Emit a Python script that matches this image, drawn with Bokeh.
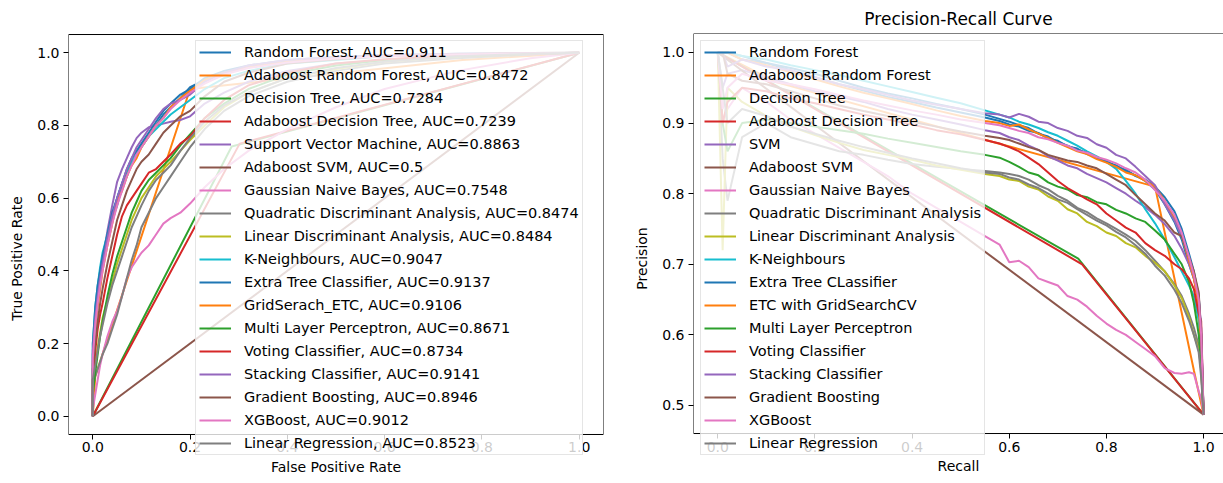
from bokeh.plotting import figure
from bokeh.layouts import row
from bokeh.models import (Legend, LegendItem, Range1d, FixedTicker, PrintfTickFormatter,
                          BoxAnnotation)
from bokeh.embed import file_html
from bokeh.resources import INLINE

# ---------------- ROC data ----------------
roc_fpr_grid = [0.0, 0.0, 0.005, 0.01, 0.015, 0.02, 0.03, 0.04, 0.05, 0.06, 0.07, 0.08, 0.09, 0.10,
                0.115, 0.13, 0.145, 0.16, 0.18, 0.20, 0.23, 0.27, 0.32, 0.40, 0.50, 0.60, 0.75, 0.90, 1.0]
roc_tpr_random_forest = [0, 0.17, 0.26, 0.33, 0.38, 0.42, 0.48, 0.54, 0.58, 0.63, 0.66, 0.70, 0.72, 0.745,
                         0.77, 0.80, 0.83, 0.85, 0.875, 0.905, 0.925, 0.945, 0.96, 0.975, 0.985, 0.99, 0.995, 0.998, 1]
roc_fpr_adaboost_rf = [0.0, 0.005, 0.20, 0.76, 1.0]
roc_tpr_adaboost_rf = [0.0, 0.11, 0.90, 0.98, 1.0]
roc_fpr_decision_tree = [0.0, 0.2855, 1.0]
roc_tpr_decision_tree = [0.0, 0.742, 1.0]
roc_fpr_adaboost_dt = [0.0, 0.302, 1.0]
roc_tpr_adaboost_dt = [0.0, 0.75, 1.0]
roc_tpr_svm = [0, 0.14, 0.24, 0.31, 0.37, 0.43, 0.51, 0.58, 0.645, 0.68, 0.71, 0.74, 0.765, 0.78,
               0.795, 0.80, 0.805, 0.81, 0.815, 0.825, 0.86, 0.89, 0.92, 0.95, 0.97, 0.98, 0.99, 0.996, 1]
roc_fpr_adaboost_svm = [0.0, 1.0]
roc_tpr_adaboost_svm = [0.0, 1.0]
roc_tpr_gnb = [0, 0.02, 0.06, 0.10, 0.14, 0.17, 0.22, 0.26, 0.29, 0.33, 0.38, 0.41, 0.43, 0.45,
               0.47, 0.50, 0.53, 0.545, 0.56, 0.585, 0.63, 0.68, 0.73, 0.79, 0.85, 0.90, 0.95, 0.985, 1]
roc_tpr_qda = [0, 0.08, 0.11, 0.13, 0.15, 0.17, 0.20, 0.24, 0.28, 0.33, 0.38, 0.43, 0.47, 0.52,
               0.56, 0.60, 0.63, 0.66, 0.70, 0.74, 0.79, 0.84, 0.88, 0.92, 0.95, 0.97, 0.985, 0.995, 1]
roc_tpr_lda = [0, 0.10, 0.15, 0.19, 0.23, 0.27, 0.32, 0.37, 0.42, 0.46, 0.50, 0.54, 0.57, 0.60,
               0.63, 0.66, 0.68, 0.70, 0.73, 0.76, 0.80, 0.85, 0.89, 0.93, 0.955, 0.975, 0.99, 0.997, 1]
roc_tpr_knn = [0, 0.20, 0.30, 0.36, 0.41, 0.45, 0.50, 0.55, 0.60, 0.64, 0.67, 0.70, 0.72, 0.74,
               0.77, 0.79, 0.81, 0.83, 0.85, 0.87, 0.90, 0.93, 0.95, 0.97, 0.98, 0.99, 0.995, 0.998, 1]
roc_tpr_etc = [0, 0.20, 0.30, 0.36, 0.40, 0.44, 0.50, 0.56, 0.60, 0.64, 0.68, 0.71, 0.73, 0.75,
               0.78, 0.81, 0.84, 0.86, 0.885, 0.90, 0.93, 0.95, 0.965, 0.98, 0.988, 0.993, 0.997, 0.999, 1]
roc_tpr_grid_etc = [0, 0.15, 0.24, 0.30, 0.35, 0.40, 0.47, 0.53, 0.59, 0.62, 0.66, 0.69, 0.71, 0.74,
                    0.77, 0.80, 0.82, 0.85, 0.875, 0.895, 0.925, 0.945, 0.96, 0.975, 0.985, 0.992, 0.996, 0.999, 1]
roc_tpr_mlp = [0, 0.06, 0.12, 0.17, 0.22, 0.26, 0.33, 0.39, 0.44, 0.48, 0.52, 0.56, 0.59, 0.62,
               0.65, 0.67, 0.69, 0.71, 0.745, 0.775, 0.82, 0.86, 0.90, 0.94, 0.965, 0.98, 0.99, 0.997, 1]
roc_tpr_voting = [0, 0.10, 0.18, 0.24, 0.28, 0.31, 0.38, 0.44, 0.50, 0.55, 0.58, 0.60, 0.62, 0.64,
                  0.67, 0.68, 0.70, 0.72, 0.75, 0.77, 0.82, 0.87, 0.91, 0.945, 0.97, 0.982, 0.992, 0.997, 1]
roc_tpr_stacking = [0, 0.18, 0.27, 0.33, 0.38, 0.42, 0.49, 0.55, 0.60, 0.64, 0.68, 0.71, 0.74, 0.76,
                    0.79, 0.82, 0.845, 0.86, 0.87, 0.885, 0.92, 0.945, 0.965, 0.98, 0.988, 0.993, 0.997, 0.999, 1]
roc_tpr_gb = [0, 0.13, 0.20, 0.26, 0.31, 0.35, 0.42, 0.48, 0.54, 0.58, 0.62, 0.65, 0.68, 0.70,
              0.72, 0.75, 0.78, 0.80, 0.825, 0.84, 0.88, 0.92, 0.945, 0.97, 0.982, 0.99, 0.995, 0.998, 1]
roc_tpr_xgb = [0, 0.16, 0.25, 0.31, 0.36, 0.40, 0.47, 0.53, 0.58, 0.62, 0.66, 0.69, 0.72, 0.74,
               0.77, 0.80, 0.82, 0.845, 0.87, 0.89, 0.915, 0.94, 0.958, 0.973, 0.984, 0.99, 0.995, 0.998, 1]
roc_tpr_linreg = [0, 0.10, 0.14, 0.18, 0.22, 0.25, 0.31, 0.36, 0.40, 0.44, 0.48, 0.52, 0.55, 0.58,
                  0.62, 0.65, 0.67, 0.69, 0.73, 0.765, 0.81, 0.855, 0.89, 0.93, 0.958, 0.975, 0.99, 0.997, 1]

roc_labels = [
    "Random Forest, AUC=0.911", "Adaboost Random Forest, AUC=0.8472", "Decision Tree, AUC=0.7284",
    "Adaboost Decision Tree, AUC=0.7239", "Support Vector Machine, AUC=0.8863", "Adaboost SVM, AUC=0.5",
    "Gaussian Naive Bayes, AUC=0.7548", "Quadratic Discriminant Analysis, AUC=0.8474",
    "Linear Discriminant Analysis, AUC=0.8484", "K-Neighbours, AUC=0.9047",
    "Extra Tree Classifier, AUC=0.9137", "GridSerach_ETC, AUC=0.9106", "Multi Layer Perceptron, AUC=0.8671",
    "Voting Classifier, AUC=0.8734", "Stacking Classifier, AUC=0.9141", "Gradient Boosting, AUC=0.8946",
    "XGBoost, AUC=0.9012", "Linear Regression, AUC=0.8523",
]

# ---------------- Precision-Recall data ----------------
pr_recall_grid = [0.0, 0.01, 0.02, 0.05, 0.10, 0.15, 0.20, 0.25, 0.30, 0.35, 0.40, 0.45, 0.50, 0.55,
                  0.58,
                  0.60, 0.62, 0.64, 0.66, 0.68, 0.70, 0.72, 0.74, 0.76, 0.78, 0.80, 0.82, 0.84, 0.86, 0.88, 0.90, 0.92, 0.94,
                  0.955, 0.97, 0.98, 0.99, 0.995, 1.0]
pr_prec_random_forest = [1.0, 1.0, 1.0, 0.995, 0.985, 0.975, 0.965, 0.955, 0.946, 0.937, 0.93, 0.922, 0.915, 0.908,
                         0.903,
                         0.898, 0.895, 0.889, 0.886, 0.878, 0.875, 0.867, 0.864, 0.856, 0.852, 0.845, 0.84, 0.832, 0.826, 0.818, 0.806, 0.785, 0.76,
                         0.735, 0.70, 0.68, 0.648, 0.58, 0.487]
pr_rec_adaboost_rf = [0.0, 0.12, 0.90, 0.98, 1.0]
pr_prec_adaboost_rf = [1.0, 0.958, 0.81, 0.55, 0.487]
pr_rec_decision_tree = [0.0, 0.742, 1.0]
pr_prec_decision_tree = [1.0, 0.708, 0.487]
pr_rec_adaboost_dt = [0.0, 0.75, 1.0]
pr_prec_adaboost_dt = [1.0, 0.70, 0.487]
pr_prec_svm = [1.0, 0.95, 0.97, 0.975, 0.965, 0.955, 0.945, 0.938, 0.93, 0.92, 0.912, 0.905, 0.898, 0.89,
               0.886,
               0.88, 0.876, 0.868, 0.862, 0.853, 0.847, 0.84, 0.836, 0.828, 0.822, 0.816, 0.808, 0.80, 0.79, 0.781, 0.77, 0.757, 0.74,
               0.722, 0.70, 0.68, 0.65, 0.61, 0.487]
pr_rec_adaboost_svm = [0.0, 1.0]
pr_prec_adaboost_svm = [1.0, 0.487]
pr_prec_gnb = [1.0, 0.9, 0.92, 0.95, 0.93, 0.905, 0.885, 0.865, 0.845, 0.825, 0.80, 0.78, 0.76, 0.74,
               0.728,
               0.703, 0.705, 0.696, 0.68, 0.675, 0.67, 0.655, 0.65, 0.64, 0.627, 0.616, 0.607, 0.60, 0.59, 0.58, 0.57, 0.553, 0.546,
               0.545, 0.547, 0.545, 0.52, 0.51, 0.487]
pr_prec_qda = [1.0, 0.85, 0.79, 0.88, 0.90, 0.88, 0.87, 0.86, 0.855, 0.848, 0.842, 0.838, 0.835, 0.832,
               0.83,
               0.828, 0.825, 0.82, 0.812, 0.806, 0.797, 0.79, 0.78, 0.774, 0.765, 0.758, 0.75, 0.742, 0.733, 0.72, 0.705, 0.69, 0.672,
               0.655, 0.63, 0.61, 0.585, 0.55, 0.487]
pr_prec_lda = [1.0, 0.72, 0.95, 0.93, 0.91, 0.895, 0.883, 0.872, 0.862, 0.855, 0.848, 0.84, 0.834, 0.828,
               0.825,
               0.82, 0.818, 0.81, 0.806, 0.796, 0.79, 0.778, 0.772, 0.76, 0.754, 0.745, 0.74, 0.73, 0.724, 0.712, 0.702, 0.69, 0.67,
               0.652, 0.625, 0.60, 0.58, 0.55, 0.487]
pr_prec_knn = [1.0, 1.0, 1.0, 0.995, 0.99, 0.982, 0.975, 0.968, 0.96, 0.952, 0.944, 0.936, 0.928, 0.918,
               0.912,
               0.908, 0.902, 0.898, 0.893, 0.887, 0.882, 0.875, 0.868, 0.86, 0.853, 0.845, 0.835, 0.818, 0.80, 0.778, 0.758, 0.735, 0.71,
               0.69, 0.67, 0.655, 0.62, 0.58, 0.487]
pr_prec_etc = [1.0, 1.0, 1.0, 0.99, 0.985, 0.978, 0.97, 0.96, 0.95, 0.942, 0.935, 0.927, 0.92, 0.912,
               0.906,
               0.902, 0.897, 0.893, 0.885, 0.881, 0.873, 0.868, 0.862, 0.858, 0.85, 0.846, 0.838, 0.834, 0.825, 0.82, 0.81, 0.795, 0.775,
               0.75, 0.715, 0.69, 0.655, 0.60, 0.487]
pr_prec_grid_etc = [1.0, 1.0, 1.0, 0.99, 0.982, 0.972, 0.962, 0.952, 0.943, 0.935, 0.927, 0.918, 0.91, 0.903,
                    0.90,
                    0.896, 0.898, 0.891, 0.885, 0.879, 0.872, 0.866, 0.86, 0.856, 0.849, 0.844, 0.838, 0.83, 0.826, 0.818, 0.81, 0.79, 0.765,
                    0.74, 0.705, 0.68, 0.64, 0.58, 0.487]
pr_prec_mlp = [1.0, 0.9, 0.86, 0.90, 0.905, 0.90, 0.895, 0.89, 0.885, 0.878, 0.872, 0.866, 0.86, 0.855,
               0.851,
               0.845, 0.838, 0.83, 0.826, 0.816, 0.81, 0.806, 0.798, 0.795, 0.788, 0.785, 0.777, 0.772, 0.765, 0.76, 0.748, 0.735, 0.715,
               0.70, 0.675, 0.645, 0.60, 0.56, 0.487]
pr_prec_voting = [1.0, 0.9, 0.93, 0.95, 0.945, 0.935, 0.928, 0.92, 0.912, 0.905, 0.898, 0.89, 0.884, 0.876,
                  0.871,
                  0.866, 0.86, 0.851, 0.842, 0.83, 0.818, 0.808, 0.80, 0.792, 0.785, 0.772, 0.762, 0.752, 0.745, 0.73, 0.72, 0.712, 0.70,
                  0.693, 0.68, 0.665, 0.63, 0.62, 0.487]
pr_prec_stacking = [1.0, 1.0, 0.98, 0.99, 0.98, 0.975, 0.965, 0.955, 0.948, 0.94, 0.932, 0.926, 0.92, 0.914,
                    0.912,
                    0.908, 0.913, 0.909, 0.902, 0.90, 0.893, 0.889, 0.882, 0.879, 0.87, 0.865, 0.855, 0.85, 0.838, 0.825, 0.812, 0.785, 0.762,
                    0.74, 0.71, 0.685, 0.655, 0.61, 0.487]
pr_prec_gb = [1.0, 1.0, 0.97, 0.96, 0.955, 0.945, 0.935, 0.925, 0.917, 0.91, 0.902, 0.895, 0.888, 0.882,
              0.879,
              0.876, 0.871, 0.866, 0.862, 0.855, 0.851, 0.847, 0.845, 0.84, 0.836, 0.828, 0.82, 0.812, 0.798, 0.785, 0.772, 0.762, 0.745,
              0.74, 0.71, 0.69, 0.66, 0.60, 0.487]
pr_prec_xgb = [1.0, 0.92, 0.95, 0.97, 0.96, 0.955, 0.948, 0.94, 0.932, 0.925, 0.918, 0.912, 0.905, 0.90,
               0.897,
               0.893, 0.889, 0.886, 0.88, 0.877, 0.872, 0.868, 0.861, 0.858, 0.852, 0.848, 0.843, 0.836, 0.83, 0.82, 0.805, 0.79, 0.77,
               0.745, 0.71, 0.685, 0.65, 0.60, 0.487]
pr_prec_linreg = [1.0, 0.95, 0.90, 0.92, 0.91, 0.895, 0.885, 0.875, 0.866, 0.858, 0.85, 0.843, 0.836, 0.83,
                  0.828,
                  0.823, 0.82, 0.813, 0.808, 0.80, 0.792, 0.787, 0.778, 0.77, 0.762, 0.755, 0.746, 0.738, 0.727, 0.715, 0.698, 0.684, 0.664,
                  0.645, 0.62, 0.60, 0.575, 0.54, 0.487]

pr_labels = [
    "Random Forest", "Adaboost Random Forest", "Decision Tree", "Adaboost Decision Tree", "SVM",
    "Adaboost SVM", "Gaussian Naive Bayes", "Quadratic Discriminant Analysis", "Linear Discriminant Analysis",
    "K-Neighbours", "Extra Tree CLassifier", "ETC with GridSearchCV", "Multi Layer Perceptron",
    "Voting Classifier", "Stacking Classifier", "Gradient Boosting", "XGBoost", "Linear Regression",
]

tab10 = ["#1f77b4", "#ff7f0e", "#2ca02c", "#d62728", "#9467bd",
         "#8c564b", "#e377c2", "#7f7f7f", "#bcbd22", "#17becf"]

G = roc_fpr_grid
roc_series = [
    (G, roc_tpr_random_forest), (roc_fpr_adaboost_rf, roc_tpr_adaboost_rf),
    (roc_fpr_decision_tree, roc_tpr_decision_tree), (roc_fpr_adaboost_dt, roc_tpr_adaboost_dt),
    (G, roc_tpr_svm), (roc_fpr_adaboost_svm, roc_tpr_adaboost_svm), (G, roc_tpr_gnb), (G, roc_tpr_qda),
    (G, roc_tpr_lda), (G, roc_tpr_knn), (G, roc_tpr_etc), (G, roc_tpr_grid_etc), (G, roc_tpr_mlp),
    (G, roc_tpr_voting), (G, roc_tpr_stacking), (G, roc_tpr_gb), (G, roc_tpr_xgb), (G, roc_tpr_linreg),
]
R = pr_recall_grid
pr_series = [
    (R, pr_prec_random_forest), (pr_rec_adaboost_rf, pr_prec_adaboost_rf),
    (pr_rec_decision_tree, pr_prec_decision_tree), (pr_rec_adaboost_dt, pr_prec_adaboost_dt),
    (R, pr_prec_svm), (pr_rec_adaboost_svm, pr_prec_adaboost_svm), (R, pr_prec_gnb), (R, pr_prec_qda),
    (R, pr_prec_lda), (R, pr_prec_knn), (R, pr_prec_etc), (R, pr_prec_grid_etc), (R, pr_prec_mlp),
    (R, pr_prec_voting), (R, pr_prec_stacking), (R, pr_prec_gb), (R, pr_prec_xgb), (R, pr_prec_linreg),
]
for xs, ys in roc_series + pr_series:
    assert len(xs) == len(ys), (len(xs), len(ys))

FONT = "DejaVu Sans"
TXT = "#000000"


def style(p, xticks, yticks, xlabel, ylabel, x_lo, x_hi, y_lo, y_hi):
    p.grid.visible = False
    p.outline_line_color = None
    p.background_fill_color = "white"
    p.border_fill_color = "white"
    p.xaxis.ticker = FixedTicker(ticks=xticks)
    p.yaxis.ticker = FixedTicker(ticks=yticks)
    for ax in (p.xaxis[0], p.yaxis[0]):
        ax.formatter = PrintfTickFormatter(format="%.1f")
        ax.axis_line_color = None
        ax.major_tick_line_color = "black"
        ax.major_tick_in = 0
        ax.major_tick_out = 5
        ax.minor_tick_line_color = None
        ax.major_label_text_font = FONT
        ax.major_label_text_font_size = "14px"
        ax.major_label_text_color = TXT
        ax.axis_label_text_font = FONT
        ax.axis_label_text_font_size = "14px"
        ax.axis_label_text_font_style = "normal"
        ax.axis_label_text_color = TXT
    p.yaxis[0].major_label_standoff = 4
    p.xaxis[0].major_label_standoff = 3
    p.yaxis[0].axis_label_standoff = 9
    p.xaxis[0].axis_label_standoff = 3
    # x axis drawn at the bottom spine (axes box), inside the frame area
    p.xaxis[0].fixed_location = y_lo
    p.xaxis.axis_label = xlabel
    p.yaxis.axis_label = ylabel
    # the axes box (spines)
    p.add_layout(BoxAnnotation(left=x_lo, right=x_hi, bottom=y_lo, top=y_hi,
                               fill_alpha=0, fill_color=None,
                               line_color="black", line_alpha=1.0, line_width=1))


def add_curves(p, series, labels, loc):
    items = []
    for i, ((xs, ys), lab) in enumerate(zip(series, labels)):
        r = p.line(xs, ys, line_color=tab10[i % 10], line_width=2)
        items.append(LegendItem(label=lab, renderers=[r]))
    leg = Legend(items=items, location=loc, margin=0, padding=3, spacing=7,
                 glyph_width=32, glyph_height=16, label_height=16, label_standoff=13,
                 label_text_font=FONT, label_text_font_size="14.5px", label_text_color=TXT,
                 border_line_color="#cccccc", border_line_width=1,
                 background_fill_color="white", background_fill_alpha=0.8)
    p.add_layout(leg)


H = 483
# left: frame 33..483 (page), spines box -0.05..1.05 (bottom spine at ~434)
p1 = figure(width=631, height=H, x_range=Range1d(-0.05, 1.05), y_range=Range1d(-0.1848, 1.0528),
            output_backend="svg", toolbar_location=None,
            min_border_left=68, min_border_right=28, min_border_top=33, min_border_bottom=0)
style(p1, [0.0, 0.2, 0.4, 0.6, 0.8, 1.0], [0.0, 0.2, 0.4, 0.6, 0.8, 1.0],
      "False Positive Rate", "True Positive Rate", -0.05, 1.05, -0.05, 1.05)
add_curves(p1, roc_series, roc_labels, (127, 28))

p2 = figure(width=592, height=H, x_range=Range1d(-0.05, 1.041), y_range=Range1d(0.3895, 1.0269),
            output_backend="svg", toolbar_location=None,
            min_border_left=60, min_border_right=0, min_border_top=33, min_border_bottom=0)
style(p2, [0.0, 0.2, 0.4, 0.6, 0.8, 1.0], [0.5, 0.6, 0.7, 0.8, 0.9, 1.0], "Recall", "Precision",
      -0.05, 1.05, 0.4603, 1.0269)
p2.title.text = "Precision-Recall Curve"
p2.title.text_font = FONT
p2.title.text_font_size = "17px"
p2.title.text_font_style = "normal"
p2.title.text_color = TXT
p2.title.align = "center"
p2.title.standoff = 9
add_curves(p2, pr_series, pr_labels, (7, 28))

layout = row(p1, p2)
open("out.html", "w").write(file_html(layout, INLINE))
